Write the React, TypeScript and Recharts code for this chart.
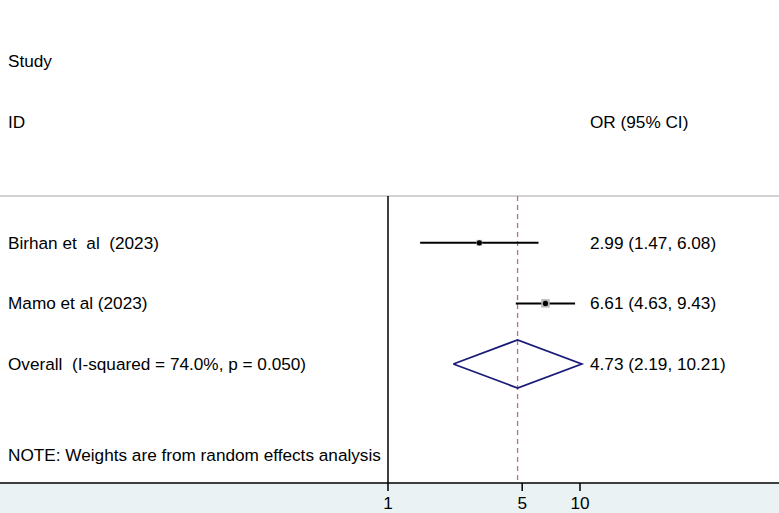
import { ComposedChart, XAxis, YAxis, Scatter, ReferenceLine, CartesianGrid } from 'recharts';

// study level estimates (odds ratios, 95% CI)
const STUDIES = ['Birhan et  al  (2023)', 'Mamo et al (2023)'];
const ODDS = [2.99, 6.61];
const LOWER = [1.47, 4.63];
const UPPER = [6.08, 9.43];
const WEIGHTS = [41.2, 58.8];

// pooled random effects estimate
const OVERALL_LABEL = 'Overall  (I-squared = 74.0%, p = 0.050)';
const OVERALL_OR = 4.73;
const OVERALL_LOWER = 2.19;
const OVERALL_UPPER = 10.21;

const X_TICKS = [1, 5, 10];
const NOTE = 'NOTE: Weights are from random effects analysis';

// layout: row slots (0 = top)
const STUDY_ROWS = [3, 4];
const OVERALL_ROW = 5;
const NOTE_ROW = 6.5;
const HEADER_SEP = 2.228;
const Y_DOMAIN: [number, number] = [-1.007, 6.964];
const X_DOMAIN: [number, number] = [0.00953, 108.8];
const DIAMOND_HALF = 0.396;

const W = 779;
const H = 513;
const FONT = '"Liberation Sans", Arial, Helvetica, sans-serif';
const FS = 17.2;

const fmt = (v: number) => v.toFixed(2);
const ciText = (o: number, l: number, u: number) => `${fmt(o)} (${fmt(l)}, ${fmt(u)})`;

const rowTicks = [0, 1, ...STUDY_ROWS, OVERALL_ROW, NOTE_ROW];
const leftText = ['Study', 'ID', ...STUDIES, OVERALL_LABEL, NOTE];
const rightText = [
  '',
  'OR (95% CI)',
  ...STUDIES.map((_, i) => ciText(ODDS[i], LOWER[i], UPPER[i])),
  ciText(OVERALL_OR, OVERALL_LOWER, OVERALL_UPPER),
  '',
];

const markers = STUDIES.map((name, i) => ({ name, x: ODDS[i], y: STUDY_ROWS[i], w: WEIGHTS[i] }));
const ciLines = STUDIES.map((_, i) => [
  { x: LOWER[i], y: STUDY_ROWS[i] },
  { x: UPPER[i], y: STUDY_ROWS[i] },
]);
const diamond = [
  { x: OVERALL_LOWER, y: OVERALL_ROW },
  { x: OVERALL_OR, y: OVERALL_ROW - DIAMOND_HALF },
  { x: OVERALL_UPPER, y: OVERALL_ROW },
  { x: OVERALL_OR, y: OVERALL_ROW + DIAMOND_HALF },
  { x: OVERALL_LOWER, y: OVERALL_ROW },
];

const textProps = {
  dy: '0.35em',
  textAnchor: 'start' as const,
  fill: '#000',
  fontSize: FS,
  fontFamily: FONT,
  xmlSpace: 'preserve',
  style: { whiteSpace: 'pre' as const },
};

const RowTick = (props: any) => {
  const { y, payload } = props;
  const i = rowTicks.indexOf(payload.value);
  return (
    <g>
      <text x={8} y={y} {...textProps}>
        {leftText[i]}
      </text>
      {rightText[i] ? (
        <text x={590} y={y} {...textProps}>
          {rightText[i]}
        </text>
      ) : null}
    </g>
  );
};

const WeightBox = (props: any) => {
  const { cx, cy, payload } = props;
  const s = payload.w / 7;
  return (
    <g>
      <rect x={cx - s / 2} y={cy - s / 2} width={s} height={s} fill="#b4b4b4" />
      <circle cx={cx} cy={cy} r={2.6} fill="#000" />
    </g>
  );
};

const NoDot = () => <g />;

export default function App() {
  return (
    <div style={{ width: W, height: H, background: '#eaf2f3', fontFamily: FONT }}>
      <style>{'body{margin:0}'}</style>
      <ComposedChart width={W} height={H} margin={{ top: 0, right: 0, bottom: 0, left: 0 }}>
        <CartesianGrid fill="#fff" horizontal={false} vertical={false} />
        <XAxis
          dataKey="x"
          type="number"
          scale="log"
          domain={X_DOMAIN}
          allowDataOverflow
          ticks={X_TICKS}
          height={30}
          tickSize={8}
          tickMargin={6}
          stroke="#000"
          strokeWidth={1.5}
          tick={{ fill: '#000', fontSize: FS, fontFamily: FONT }}
        />
        <YAxis
          dataKey="y"
          type="number"
          domain={Y_DOMAIN}
          allowDataOverflow
          reversed
          mirror
          ticks={rowTicks}
          interval={0}
          axisLine={false}
          tickLine={false}
          tick={<RowTick />}
        />
        <ReferenceLine y={HEADER_SEP} stroke="#d2d2d2" strokeWidth={2} />
        <ReferenceLine
          segment={[{ x: 1, y: HEADER_SEP }, { x: 1, y: Y_DOMAIN[1] }]}
          stroke="#000"
          strokeWidth={1.5}
        />
        <ReferenceLine
          segment={[{ x: OVERALL_OR, y: HEADER_SEP }, { x: OVERALL_OR, y: Y_DOMAIN[1] }]}
          stroke="#b8707c"
          strokeWidth={1.3}
          strokeDasharray="5 4"
        />
        {ciLines.map((d, i) => (
          <Scatter
            key={i}
            data={d}
            line={{ stroke: '#000', strokeWidth: 2 }}
            shape={<NoDot />}
            isAnimationActive={false}
          />
        ))}
        <Scatter data={markers} shape={<WeightBox />} isAnimationActive={false} />
        <Scatter
          data={diamond}
          line={{ stroke: '#1a1a7a', strokeWidth: 1.8, fill: 'none' }}
          shape={<NoDot />}
          isAnimationActive={false}
        />
      </ComposedChart>
    </div>
  );
}
